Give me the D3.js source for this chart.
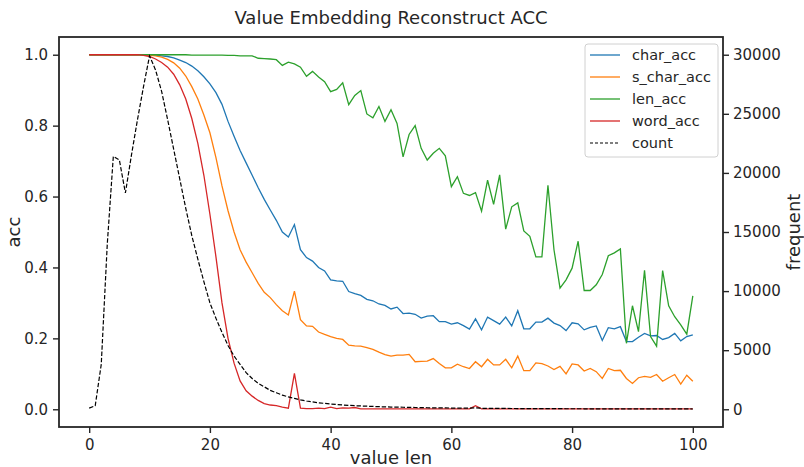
<!DOCTYPE html>
<html>
<head>
<meta charset="utf-8">
<script src="https://cdn.jsdelivr.net/npm/d3@7"></script>
<style>
  body { margin: 0; background: #fff; }
  text { font-family: "DejaVu Sans", sans-serif; fill: #262626; }
</style>
</head>
<body>
<div id="chart"></div>
<script>
// x = value length 0..100
const valueLen = d3.range(0, 101);

const charAcc = [
  1, 1, 1, 1, 1, 1, 1, 1, 1, 1,
  1, 0.999, 0.997, 0.995, 0.991, 0.985, 0.978, 0.968, 0.955, 0.938,
  0.918, 0.893, 0.86, 0.812, 0.77, 0.73, 0.695, 0.66, 0.625, 0.592,
  0.562, 0.533, 0.5, 0.486, 0.521, 0.45, 0.428, 0.418, 0.4, 0.39,
  0.365, 0.362, 0.361, 0.332, 0.326, 0.321, 0.31, 0.306, 0.297, 0.293,
  0.283, 0.288, 0.27, 0.271, 0.268, 0.257, 0.263, 0.264, 0.247, 0.247,
  0.24, 0.244, 0.236, 0.226, 0.255, 0.224, 0.26, 0.25, 0.24, 0.26,
  0.235, 0.278, 0.227, 0.227, 0.246, 0.246, 0.257, 0.243, 0.236, 0.222,
  0.244, 0.241, 0.224, 0.231, 0.235, 0.194, 0.23, 0.227, 0.233, 0.191,
  0.191, 0.203, 0.214, 0.207, 0.208, 0.197, 0.202, 0.214, 0.193, 0.205,
  0.21
];

const sCharAcc = [
  1, 1, 1, 1, 1, 1, 1, 1, 1, 1,
  0.999, 0.997, 0.993, 0.987, 0.977, 0.962, 0.94, 0.91, 0.875, 0.83,
  0.78, 0.71, 0.63, 0.56, 0.5, 0.45, 0.415, 0.385, 0.355, 0.33,
  0.315, 0.295, 0.278, 0.266, 0.333, 0.253, 0.235, 0.234, 0.218, 0.211,
  0.205, 0.2, 0.197, 0.181, 0.179, 0.178, 0.174, 0.169, 0.161, 0.154,
  0.15, 0.153, 0.153, 0.155, 0.134, 0.135, 0.136, 0.143, 0.129, 0.117,
  0.117, 0.127, 0.12, 0.115, 0.134, 0.12, 0.141, 0.125, 0.125, 0.141,
  0.117, 0.15, 0.109, 0.109, 0.131, 0.129, 0.122, 0.112, 0.121, 0.1,
  0.128, 0.125, 0.108, 0.115, 0.106, 0.087, 0.115, 0.109, 0.11, 0.087,
  0.073, 0.089, 0.093, 0.09, 0.098, 0.079, 0.089, 0.098, 0.071, 0.096,
  0.079
];

const lenAcc = [
  1, 1, 1, 1, 1, 1, 1, 1, 1, 1,
  1, 1, 1, 1, 1, 1, 1, 0.999, 0.999, 0.999,
  0.999, 0.999, 0.999, 0.998, 0.998, 0.997, 0.997, 0.997, 0.99, 0.989,
  0.988, 0.986, 0.97, 0.979, 0.974, 0.965, 0.939, 0.953, 0.937, 0.924,
  0.896, 0.902, 0.921, 0.859, 0.885, 0.899, 0.833, 0.822, 0.854, 0.812,
  0.845, 0.806, 0.712, 0.775, 0.8, 0.736, 0.703, 0.722, 0.736, 0.715,
  0.628, 0.656, 0.609, 0.603, 0.611, 0.559, 0.646, 0.578, 0.661, 0.508,
  0.571, 0.582, 0.503, 0.488, 0.43, 0.43, 0.632, 0.45, 0.342, 0.365,
  0.398, 0.474, 0.335, 0.335, 0.351, 0.38, 0.433, 0.441, 0.452, 0.186,
  0.292, 0.219, 0.392, 0.205, 0.178, 0.391, 0.292, 0.261, 0.238, 0.212,
  0.32
];

const wordAcc = [
  1, 1, 1, 1, 1, 1, 1, 1, 1, 0.998,
  0.995, 0.988, 0.978, 0.965, 0.945, 0.915, 0.875, 0.82, 0.75, 0.66,
  0.55, 0.43, 0.3, 0.2, 0.13, 0.08, 0.052, 0.037, 0.025, 0.016,
  0.012, 0.01, 0.006, 0.003, 0.101, 0.003, 0.002, 0.002, 0.003, 0.002,
  0.006, 0.002, 0.004, 0.003, 0.005, 0.001, 0.001, 0.001, 0.001, 0.001,
  0.001, 0.001, 0.001, 0.001, 0.001, 0.001, 0.001, 0.001, 0.001, 0.001,
  0.001, 0.001, 0.001, 0.001, 0.01, 0.001, 0.001, 0.001, 0.001, 0.001,
  0.001, 0.001, 0.001, 0.001, 0.001, 0.001, 0.001, 0.001, 0.001, 0.001,
  0.001, 0.001, 0.001, 0.001, 0.001, 0.001, 0.001, 0.001, 0.001, 0.001,
  0.001, 0.001, 0.001, 0.001, 0.001, 0.001, 0.001, 0.001, 0.001, 0.001,
  0.001
];

const countVals = [
  100, 300, 3800, 14000, 21400, 21100, 18300, 21500, 24500, 27300,
  29900, 28700, 26900, 24500, 22000, 19500, 17000, 14700, 12700, 10800,
  9000, 7700, 6500, 5400, 4500, 3800, 3100, 2600, 2200, 1900,
  1600, 1400, 1200, 1050, 920, 800, 700, 620, 550, 500,
  450, 400, 360, 330, 300, 280, 260, 240, 220, 200,
  190, 180, 170, 160, 150, 140, 130, 120, 115, 110,
  105, 100, 95, 90, 120, 85, 80, 75, 72, 70,
  66, 63, 60, 58, 56, 54, 52, 50, 48, 46,
  45, 44, 42, 41, 40, 38, 37, 36, 35, 34,
  33, 32, 31, 30, 30, 29, 28, 28, 27, 26,
  25
];

const xTicks = [0, 20, 40, 60, 80, 100];
const accTicks = [0, 0.2, 0.4, 0.6, 0.8, 1.0];
const countTicks = [0, 5000, 10000, 15000, 20000, 25000, 30000];

const series = [
  { name: "char_acc", values: charAcc, color: "#1f77b4" },
  { name: "s_char_acc", values: sCharAcc, color: "#ff7f0e" },
  { name: "len_acc", values: lenAcc, color: "#2ca02c" },
  { name: "word_acc", values: wordAcc, color: "#d62728" }
];

const width = 804, height = 467;
const margin = { top: 37, right: 81, bottom: 40, left: 59 };
const innerW = width - margin.left - margin.right;
const innerH = height - margin.top - margin.bottom;

const svg = d3.select("#chart").append("svg")
  .attr("width", width)
  .attr("height", height);

const g = svg.append("g")
  .attr("transform", `translate(${margin.left},${margin.top})`);

const x = d3.scaleLinear().domain([-5, 105]).range([0, innerW]);
const yAcc = d3.scaleLinear().domain([-0.05, 1.05]).range([innerH, 0]);
const yCount = d3.scaleLinear().domain([-1500, 31500]).range([innerH, 0]);

// accuracy lines
const accLine = d3.line()
  .x((d, i) => x(valueLen[i]))
  .y(d => yAcc(d));

series.forEach(s => {
  g.append("path")
    .datum(s.values)
    .attr("fill", "none")
    .attr("stroke", s.color)
    .attr("stroke-width", 1.3)
    .attr("d", accLine);
});

// count on the twin axis
const countLine = d3.line()
  .x((d, i) => x(valueLen[i]))
  .y(d => yCount(d));

g.append("path")
  .datum(countVals)
  .attr("fill", "none")
  .attr("stroke", "#000")
  .attr("stroke-width", 1.2)
  .attr("stroke-dasharray", "4.4,1.9")
  .attr("d", countLine);

// axes
const xAxis = g.append("g")
  .attr("transform", `translate(0,${innerH})`)
  .call(d3.axisBottom(x).tickValues(xTicks).tickSize(6).tickPadding(6).tickFormat(d3.format("d")));

const yAxisL = g.append("g")
  .call(d3.axisLeft(yAcc).tickValues(accTicks).tickSize(6).tickPadding(5).tickFormat(d3.format(".1f")));

const yAxisR = g.append("g")
  .attr("transform", `translate(${innerW},0)`)
  .call(d3.axisRight(yCount).tickValues(countTicks).tickSize(6).tickPadding(4).tickFormat(d3.format("d")));

[xAxis, yAxisL, yAxisR].forEach(a => {
  a.select(".domain").remove();
  a.selectAll(".tick line").attr("stroke", "#262626").attr("stroke-width", 1.4);
  a.selectAll(".tick text")
    .style("font-family", "DejaVu Sans, sans-serif")
    .style("font-size", "15px")
    .attr("fill", "#262626");
});

// frame
g.append("rect")
  .attr("width", innerW)
  .attr("height", innerH)
  .attr("fill", "none")
  .attr("stroke", "#262626")
  .attr("stroke-width", 1.8);

// title and labels
svg.append("text")
  .attr("x", margin.left + innerW / 2)
  .attr("y", 24)
  .attr("text-anchor", "middle")
  .style("font-size", "18px")
  .text("Value Embedding Reconstruct ACC");

svg.append("text")
  .attr("x", margin.left + innerW / 2)
  .attr("y", 464)
  .attr("text-anchor", "middle")
  .style("font-size", "18px")
  .text("value len");

svg.append("text")
  .attr("transform", `translate(20,${margin.top + innerH / 2}) rotate(-90)`)
  .attr("text-anchor", "middle")
  .style("font-size", "18px")
  .text("acc");

svg.append("text")
  .attr("transform", `translate(800,${margin.top + innerH / 2}) rotate(-90)`)
  .attr("text-anchor", "middle")
  .style("font-size", "18px")
  .text("frequent");

// legend
const legendItems = series.map(s => ({ name: s.name, color: s.color, dash: null }))
  .concat([{ name: "count", color: "#000", dash: "3,2" }]);

const legend = svg.append("g").attr("transform", "translate(585,44)");
legend.append("rect")
  .attr("width", 133)
  .attr("height", 113)
  .attr("rx", 3)
  .attr("fill", "#fff")
  .attr("fill-opacity", 0.8)
  .attr("stroke", "#d0d0d0")
  .attr("stroke-width", 1);

legendItems.forEach((d, i) => {
  const yy = 11 + i * 22;
  legend.append("line")
    .attr("x1", 5).attr("x2", 35)
    .attr("y1", yy).attr("y2", yy)
    .attr("stroke", d.color)
    .attr("stroke-width", d.dash ? 1.2 : 1.3)
    .attr("stroke-dasharray", d.dash);
  legend.append("text")
    .attr("x", 47)
    .attr("y", yy)
    .attr("dy", "0.35em")
    .style("font-size", "14.5px")
    .text(d.name);
});
</script>
</body>
</html>
